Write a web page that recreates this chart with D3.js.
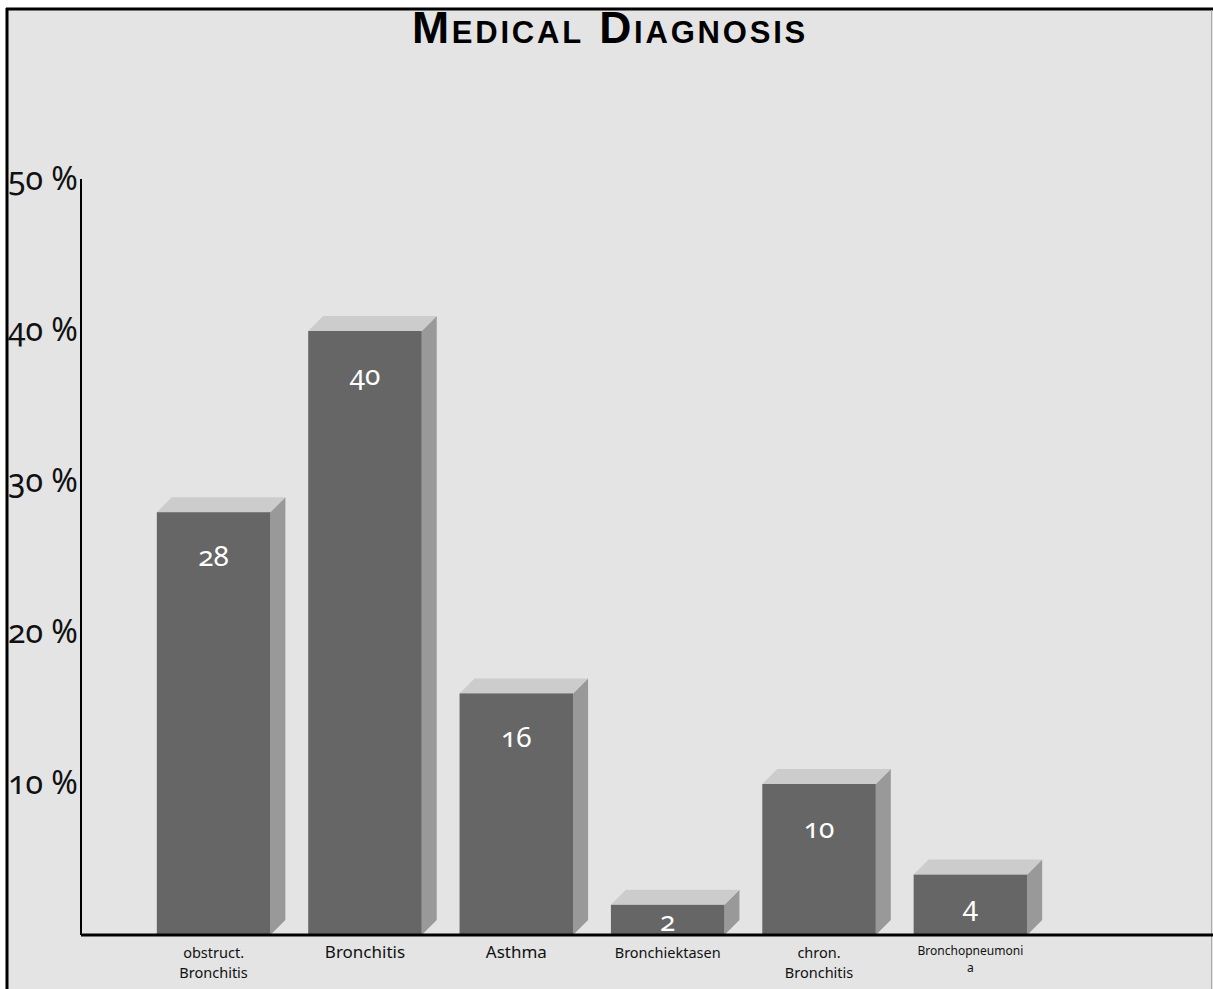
<!DOCTYPE html>
<html>
<head>
<meta charset="utf-8">
<script src="https://cdn.jsdelivr.net/npm/d3@7"></script>
<style>
  html, body { margin: 0; padding: 0; background: #ffffff; }
  svg { display: block; }
  .num { font-family: "Noto Sans", Lato, sans-serif; font-feature-settings: "onum" 1; font-variant-numeric: oldstyle-nums; }
</style>
</head>
<body>
<script>
// ---- data ----
const categories = ["obstruct.\nBronchitis", "Bronchitis", "Asthma", "Bronchiektasen", "chron.\nBronchitis", "Bronchopneumoni\na"];
const values = [28, 40, 16, 2, 10, 4];
const tickValues = [10, 20, 30, 40, 50];
const tickLabels = ["10 %", "20 %", "30 %", "40 %", "50 %"];
const title = "Medical Diagnosis";

// ---- layout ----
const W = 1213, H = 989;
const axisX = 81, baseY = 935, topY = 180;
const depthX = 15, depthY = 15;

const svg = d3.select("body").append("svg").attr("width", W).attr("height", H);

// frame
svg.append("rect").attr("x", 0).attr("y", 0).attr("width", W).attr("height", H).attr("fill", "#ffffff");
svg.append("rect").attr("x", 7).attr("y", 9).attr("width", W - 7).attr("height", H - 9)
  .attr("fill", "#e4e4e4").attr("stroke", "none");
svg.append("line").attr("x1", 7).attr("x2", 7).attr("y1", 8).attr("y2", H).attr("stroke", "#000").attr("stroke-width", 3);
svg.append("line").attr("x1", 6).attr("x2", W).attr("y1", 9).attr("y2", 9).attr("stroke", "#000").attr("stroke-width", 3);
svg.append("line").attr("x1", W - 1.5).attr("x2", W - 1.5).attr("y1", 10).attr("y2", H).attr("stroke", "#aaaaaa").attr("stroke-width", 1);

// title
svg.append("text").attr("x", 610).attr("y", 43).attr("text-anchor", "middle")
  .attr("font-family", "Liberation Sans, Arial, sans-serif").attr("font-weight", "bold")
  .attr("font-size", 44.5).attr("letter-spacing", 2.8).style("font-variant", "small-caps").attr("fill", "#000")
  .text(title);

// scales
const x = d3.scaleBand().domain(categories).range([119, 1065]).paddingInner(0.25).paddingOuter(0.25);
const y = d3.scaleLinear().domain([0, 50]).range([baseY, topY]);

// bars
const g = svg.append("g");
categories.forEach((c, i) => {
  const x0 = x(c), bw = x.bandwidth();
  const yt = y(values[i]);
  g.append("path").attr("d", `M${x0 + bw},${yt} L${x0 + bw + depthX},${yt - depthY} L${x0 + bw + depthX},${baseY - depthY} L${x0 + bw},${baseY} Z`)
    .attr("fill", "#999999");
  g.append("path").attr("d", `M${x0},${yt} L${x0 + depthX},${yt - depthY} L${x0 + bw + depthX},${yt - depthY} L${x0 + bw},${yt} Z`)
    .attr("fill", "#cccccc");
  g.append("rect").attr("x", x0).attr("y", yt).attr("width", bw).attr("height", baseY - yt).attr("fill", "#666666");
  const ly = Math.min(yt + 54, (yt + baseY) / 2 + 11);
  g.append("text").attr("class", "num").attr("x", x0 + bw / 2).attr("y", ly)
    .attr("text-anchor", "middle").attr("font-size", 28).attr("fill", "#ffffff")
    .text(values[i]);
});

// axes
svg.append("line").attr("x1", axisX).attr("x2", axisX).attr("y1", y(50) - 1).attr("y2", baseY)
  .attr("stroke", "#000").attr("stroke-width", 2);
svg.append("line").attr("x1", axisX).attr("x2", W).attr("y1", baseY).attr("y2", baseY)
  .attr("stroke", "#000").attr("stroke-width", 3);

// y tick labels
tickValues.forEach((t, i) => {
  svg.append("text").attr("class", "num").attr("x", 8).attr("y", y(t) + 10)
    .attr("font-size", 32).attr("fill", "#111").text(tickLabels[i]);
});

// x labels
categories.forEach((c) => {
  const lines = c.split("\n");
  const cx = x(c) + x.bandwidth() / 2;
  const t = svg.append("text").attr("text-anchor", "middle")
    .attr("font-family", "Noto Sans, sans-serif").attr("font-size", 10).attr("fill", "#111");
  lines.forEach((l, j) => { t.append("tspan").attr("x", cx).text(l); });
  let maxW = 0;
  t.selectAll("tspan").each(function () { maxW = Math.max(maxW, this.getComputedTextLength()); });
  const fs = Math.min(lines.length > 1 ? 14.5 : 17, 10 * 106 / maxW);
  t.attr("font-size", fs);
  const lh = fs * 1.38;
  t.selectAll("tspan").attr("y", (d, j) => (fs < 13 ? 955 : 958) + j * lh);
});
</script>
</body>
</html>
